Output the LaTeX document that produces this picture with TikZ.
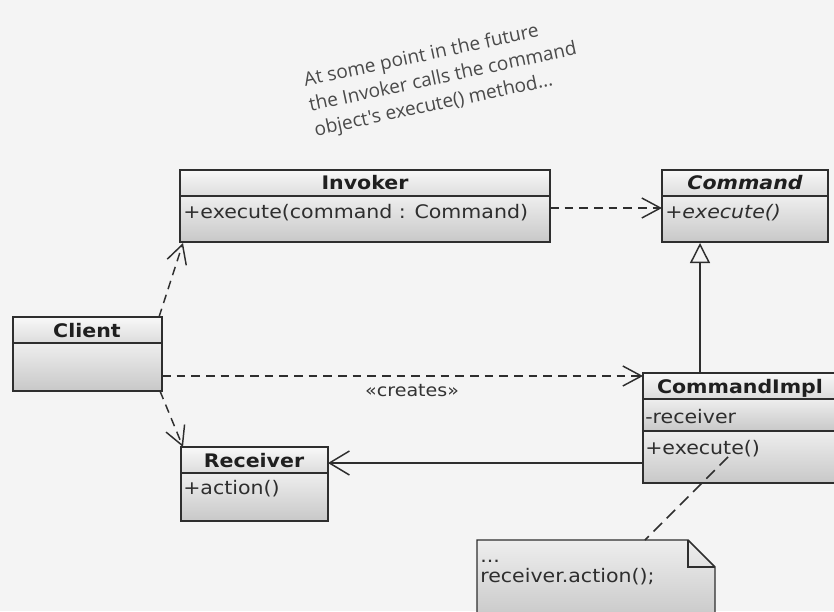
\documentclass[tikz,border=0pt]{standalone}
\usepackage{fontspec}
\setmainfont[FakeStretch=1.1]{DejaVu Sans}
\newfontfamily\handfont{Open Sans}
\usetikzlibrary{fit,calc,arrows.meta}
\definecolor{bg}{HTML}{F4F4F4}
\definecolor{linec}{HTML}{2E2E2E}
\definecolor{hdrtop}{HTML}{F8F8F8}
\definecolor{hdrbot}{HTML}{DCDCDC}
\definecolor{bodtop}{HTML}{EEEEEE}
\definecolor{bodbot}{HTML}{C8C8C8}
\definecolor{handc}{HTML}{4A4A4A}
\begin{document}
\begin{tikzpicture}[x=0.75pt,y=-0.75pt,
  hdr/.style={draw=linec,line width=1.1pt,top color=hdrtop,bottom color=hdrbot},
  bod/.style={draw=linec,line width=1.1pt,top color=bodtop,bottom color=bodbot},
  holder/.style={inner sep=0pt,outer sep=0pt},
  title/.style={font=\fontsize{14}{16}\selectfont\bfseries,inner sep=0pt,anchor=base,text=black!88},
  member/.style={font=\fontsize{14}{16}\selectfont,inner sep=0pt,anchor=base west,text=black!82},
  dep/.style={draw=linec,line width=1.1pt,dash pattern=on 6.5pt off 4.5pt,
    -{Straight Barb[length=14pt,width=15pt,line width=1.1pt]}},
  solidarrow/.style={draw=linec,line width=1.1pt,
    -{Straight Barb[length=15pt,width=18pt,line width=1.1pt]}},
  inh/.style={draw=linec,line width=1.1pt,
    -{Triangle[open,length=15pt,width=15pt,line width=1.1pt,fill=bg]}},
  notelink/.style={draw=linec,line width=1.1pt,dash pattern=on 9pt off 5pt},
  hand/.style={font=\handfont\fontsize{14.3}{19}\selectfont,text=handc,align=left,rotate=12,inner sep=0pt}
]
\fill[bg] (0,0) rectangle (834,611);
\useasboundingbox (0,0) rectangle (834,611);

% handwritten annotation
\node[hand] (memo) at (443,78) {At some point in the future\\the Invoker calls the command\\object's execute() method...};

% Invoker
\draw[hdr] (180,170) rectangle (550,196);
\draw[bod] (180,196) rectangle (550,242);
\node[holder,fit={(180,170)(550,242)}] (inv) {};
\node[title] (invt) at (365,189) {Invoker};
\node[member] (invm) at (183,218) {+execute(command : Command)};

% Command
\draw[hdr] (662,170) rectangle (828,196);
\draw[bod] (662,196) rectangle (828,242);
\node[holder,fit={(662,170)(828,242)}] (cmd) {};
\node[title,font=\fontsize{14}{16}\selectfont\bfseries\itshape] (cmdt) at (745,189) {Command};
\node[member,font=\fontsize{14}{16}\selectfont\itshape] (cmdm) at (665,218) {+execute()};

% Client
\draw[hdr] (13,317) rectangle (162,343);
\draw[bod] (13,343) rectangle (162,391);
\node[holder,fit={(13,317)(162,391)}] (cli) {};
\node[title] (clit) at (87,337) {Client};

% CommandImpl
\draw[hdr] (643,373) rectangle (838,399);
\draw[bod] (643,399) rectangle (838,431);
\draw[bod] (643,431) rectangle (838,483);
\node[holder,fit={(643,373)(838,483)}] (impl) {};
\node[title] (implt) at (740,393) {CommandImpl};
\node[member] (implm1) at (645,423) {-receiver};
\node[member] (implm2) at (645,454) {+execute()};

% Receiver
\draw[hdr] (181,447) rectangle (328,473);
\draw[bod] (181,473) rectangle (328,521);
\node[holder,fit={(181,447)(328,521)}] (rcv) {};
\node[title] (rcvt) at (254,467) {Receiver};
\node[member] (rcvm) at (183,494) {+action()};

% Note
\draw[bod] (477,540) -- (688,540) -- (715,567) -- (715,620) -- (477,620) -- cycle;
\draw[draw=linec,line width=1.1pt] (688,540) -- (688,567) -- (715,567);
\node[holder,fit={(477,540)(715,620)}] (note) {};
\node[member] (notel1) at (480,562) {...};
\node[member] (notel2) at (480,582) {receiver.action();};

% connectors
\draw[dep] (inv.east |- 0,208) -- (cmd.west |- 0,208);
\draw[inh] ($(impl.north west)+(57,0)$) -- ($(cmd.south west)+(38,1)$);
\draw[dep] ($(cli.south east)+(0,-15)$) -- ($(impl.north west)+(0,3)$)
  node[pos=0.52,below=2pt,font=\fontsize{13}{15}\selectfont,text=black!80] (lab) {«creates»};
\draw[solidarrow] ($(impl.south west)+(0,-20)$) -- ($(rcv.north east)+(0,16)$);
\draw[dep] ($(cli.north east)+(-3,0)$) -- ($(inv.south west)+(3,1)$);
\draw[dep] ($(cli.south east)+(-2,0)$) -- ($(rcv.north west)+(2,0)$);
\draw[notelink] ($(impl.south west)+(85,-26)$) -- ($(note.north west)+(168,0)$);
\end{tikzpicture}
\end{document}
